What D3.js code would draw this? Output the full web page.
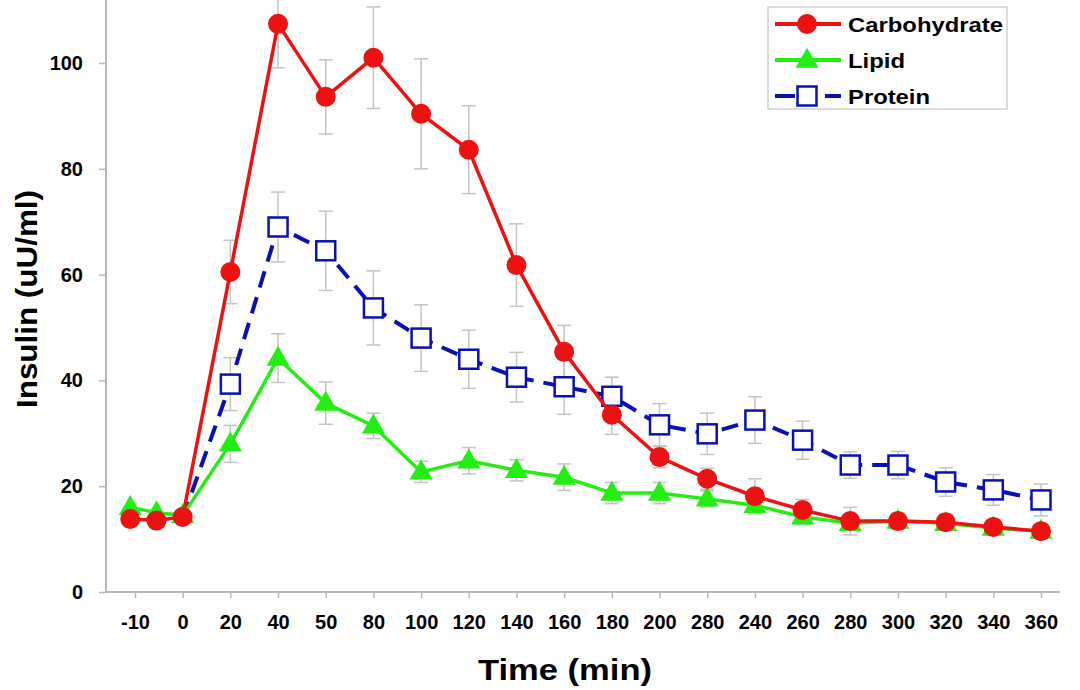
<!DOCTYPE html>
<html><head><meta charset="utf-8">
<script src="https://cdn.jsdelivr.net/npm/d3@7/dist/d3.min.js"></script>
<style>
html,body{margin:0;padding:0;background:#fff;}
text{font-family:"Liberation Sans",Arial,sans-serif;font-weight:bold;}
</style></head>
<body><svg id="chart" width="1080" height="690"></svg>
<script>
// Category tick labels on the x axis (as printed in the source)
const tickLabels = ["-10","0","20","40","50","80","100","120","140","160","180","200","280","240","260","280","300","320","340","360"];
// Position of each sample along the categorical axis (tick index units)
const samplePos = [-0.1, 0.45, 1, 2, 3, 4, 5, 6, 7, 8, 9, 10, 11, 12, 13, 14, 15, 16, 17, 18, 19];

const carbohydrate = [13.8, 13.5, 14.2, 60.5, 107.4, 93.6, 101, 90.4, 83.6, 61.8, 45.4, 33.5, 25.5, 21.4, 18.1, 15.5, 13.4, 13.4, 13.2, 12.3, 11.5];
const carbohydrateErr = [0, 0, 0, 6, 8.3, 7, 9.6, 10.4, 8.3, 7.8, 5, 3.7, 2, 2, 3.3, 2, 2.6, 1.5, 1.5, 1.2, 1.2];

const lipid = [16, 15, 14.5, 28, 44.2, 35.7, 31.4, 22.7, 24.8, 23, 21.7, 18.7, 18.7, 17.6, 16.4, 14.2, 13, 13.4, 13, 12.1, 11.5];
const lipidErr = [0, 0, 0, 3.5, 4.6, 4, 2.4, 2, 2.5, 2, 2.5, 2, 2, 1.5, 1.5, 1.5, 1.2, 1.2, 1.2, 1, 1];

const protein = [null, null, 14, 39.3, 69, 64.5, 53.7, 48, 44, 40.6, 38.8, 37, 31.6, 29.9, 32.5, 28.7, 24, 24, 20.8, 19.3, 17.4];
const proteinErr = [0, 0, 0, 5, 6.6, 7.5, 7, 6.3, 5.5, 4.7, 5.2, 3.6, 4, 3.9, 4.4, 3.6, 2.5, 2.6, 2.7, 2.9, 3];

const yTicks = [0, 20, 40, 60, 80, 100];

const svg = d3.select("#chart");
const x = d3.scaleLinear().domain([0, 19]).range([135, 1041]);
const y = d3.scaleLinear().domain([0, 100]).range([592, 63]);

const axisColor = "#b8b8b8";
const FONT = "'Liberation Sans',Arial,sans-serif";

// X axis
const xAxis = d3.axisBottom(x).tickValues(d3.range(tickLabels.length)).tickFormat(i => tickLabels[i]).tickSize(6).tickPadding(17);
const gx = svg.append("g").attr("transform", "translate(0,592)").call(xAxis);
gx.select(".domain").attr("d", "M106,0H1060").attr("stroke", axisColor).attr("stroke-width", 2);
gx.selectAll(".tick line").attr("stroke", axisColor).attr("stroke-width", 1.5);
gx.selectAll(".tick text").attr("font-size", 20).attr("fill", "#000").style("font-family", FONT).style("font-weight", "bold");

// Y axis
const yAxis = d3.axisLeft(y).tickValues(yTicks).tickSize(7).tickPadding(16);
const gy = svg.append("g").attr("transform", "translate(106,0)").call(yAxis);
gy.select(".domain").attr("d", "M0,0V592").attr("stroke", axisColor).attr("stroke-width", 2);
gy.selectAll(".tick line").attr("stroke", axisColor).attr("stroke-width", 1.5);
gy.selectAll(".tick text").attr("font-size", 20).attr("fill", "#000").style("font-family", FONT).style("font-weight", "bold");

// Axis titles
svg.append("text").attr("x", 565).attr("y", 680).attr("text-anchor", "middle").attr("font-size", 30).attr("fill", "#000")
  .attr("textLength", 174).attr("lengthAdjust", "spacingAndGlyphs").text("Time (min)");
svg.append("text").attr("transform", "translate(37,299) rotate(-90)").attr("text-anchor", "middle").attr("font-size", 30).attr("fill", "#000")
  .attr("textLength", 218).attr("lengthAdjust", "spacingAndGlyphs").text("Insulin (uU/ml)");

const series = [
  {name: "Protein", vals: protein, err: proteinErr, color: "#0a10b4", dash: "17,10", width: 4, marker: "square"},
  {name: "Lipid", vals: lipid, err: lipidErr, color: "#22ee11", dash: null, width: 3.5, marker: "triangle"},
  {name: "Carbohydrate", vals: carbohydrate, err: carbohydrateErr, color: "#ee1111", dash: null, width: 3.5, marker: "circle"}
];

function pts(s) {
  return s.vals.map((v, i) => ({x: samplePos[i], v: v, e: s.err[i], i: i})).filter(d => d.v != null);
}

// Error bars (behind)
const eb = svg.append("g");
series.forEach(s => {
  pts(s).filter(d => d.e > 0).forEach(d => {
    const cx = x(d.x), y1 = y(d.v + d.e), y2 = y(d.v - d.e);
    eb.append("line").attr("x1", cx).attr("x2", cx).attr("y1", y1).attr("y2", y2).attr("stroke", "#c4c4c4").attr("stroke-width", 1.5);
    eb.append("line").attr("x1", cx - 7).attr("x2", cx + 7).attr("y1", y1).attr("y2", y1).attr("stroke", "#c4c4c4").attr("stroke-width", 1.5);
    eb.append("line").attr("x1", cx - 7).attr("x2", cx + 7).attr("y1", y2).attr("y2", y2).attr("stroke", "#c4c4c4").attr("stroke-width", 1.5);
  });
});

const line = d3.line().x(d => x(d.x)).y(d => y(d.v));

function drawMarker(g, type, cx, cy, color) {
  if (type === "circle") {
    g.append("circle").attr("cx", cx).attr("cy", cy).attr("r", 10).attr("fill", color);
  } else if (type === "triangle") {
    const sym = d3.symbol().type(d3.symbolTriangle).size(230);
    g.append("path").attr("d", sym()).attr("transform", `translate(${cx},${cy+1})`).attr("fill", color);
  } else {
    g.append("rect").attr("x", cx - 9.5).attr("y", cy - 9.5).attr("width", 19).attr("height", 19).attr("fill", "#fff").attr("stroke", color).attr("stroke-width", 2.5);
  }
}

series.forEach(s => {
  const g = svg.append("g");
  const p = pts(s);
  g.append("path").datum(p).attr("d", line).attr("fill", "none").attr("stroke", s.color).attr("stroke-width", s.width)
    .attr("stroke-dasharray", s.dash).attr("stroke-linejoin", "round");
  // protein baseline marker is hidden beneath the other series in the source
  p.filter(d => !(s.marker === "square" && d.e === 0)).forEach(d => drawMarker(g, s.marker, x(d.x), y(d.v), s.color));
});

// Legend
const lg = svg.append("g");
lg.append("rect").attr("x", 768).attr("y", 7).attr("width", 239).attr("height", 102).attr("fill", "#fff").attr("stroke", "#d0d0d0").attr("stroke-width", 1.5);
const legendItems = [series[2], series[1], series[0]];
const legendLen = [155, 57, 82];
legendItems.forEach((s, i) => {
  const ly = 24 + i * 36;
  lg.append("line").attr("x1", 775).attr("x2", 841).attr("y1", ly).attr("y2", ly).attr("stroke", s.color).attr("stroke-width", 4)
    .attr("stroke-dasharray", s.marker === "square" ? "20,30,16" : null);
  drawMarker(lg, s.marker, 807, ly, s.color);
  lg.append("text").attr("x", 848).attr("y", ly + 8).attr("font-size", 21).attr("fill", "#000")
    .attr("textLength", legendLen[i]).attr("lengthAdjust", "spacingAndGlyphs").text(s.name);
});
</script></body></html>
